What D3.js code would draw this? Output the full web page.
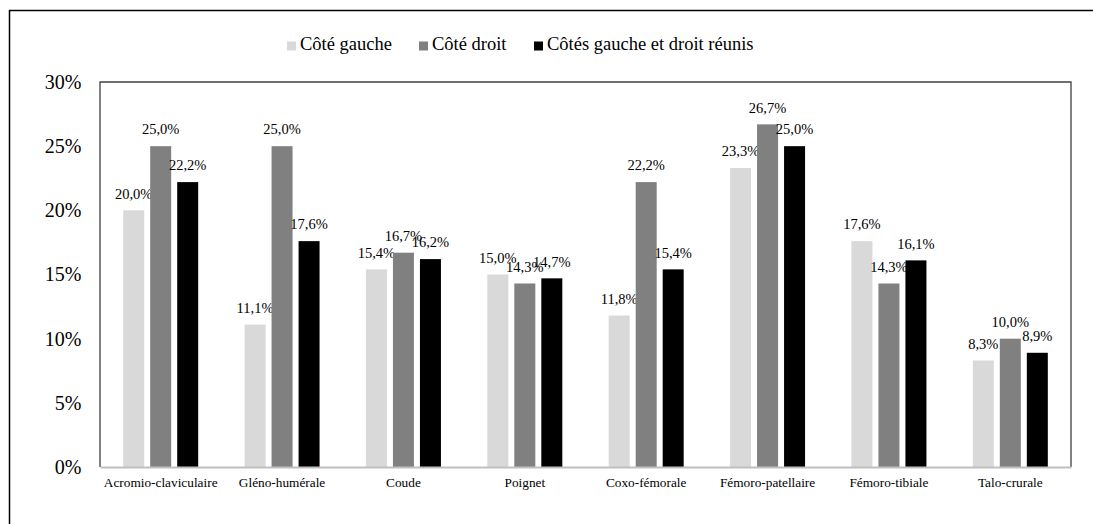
<!DOCTYPE html>
<html><head><meta charset="utf-8">
<script src="https://cdn.jsdelivr.net/npm/d3@7"></script>
<style>body{margin:0;background:#fff;} svg{display:block;} svg text{font-family:"Liberation Serif","Times New Roman",Times,serif !important;}</style>
</head><body>
<svg id="c" width="1093" height="524"></svg>
<script>
const categories = ["Acromio-claviculaire","Gléno-humérale","Coude","Poignet","Coxo-fémorale","Fémoro-patellaire","Fémoro-tibiale","Talo-crurale"];
const seriesNames = ["Côté gauche","Côté droit","Côtés gauche et droit réunis"];
const gauche = [20.0,11.1,15.4,15.0,11.8,23.3,17.6,8.3];
const droit  = [25.0,25.0,16.7,14.3,22.2,26.7,14.3,10.0];
const reunis = [22.2,17.6,16.2,14.7,15.4,25.0,16.1,8.9];
const yTicks = [0,5,10,15,20,25,30];
const colors = ["#d9d9d9","#808080","#000000"];

const series = [gauche, droit, reunis];
const svg = d3.select("#c");
const m = {l:100, r:1071, t:82, b:467};

// outer frame (top + left)
svg.append("line").attr("x1",9).attr("x2",1093).attr("y1",10.5).attr("y2",10.5).attr("stroke","#000").attr("stroke-width",1.5);
svg.append("line").attr("x1",9.5).attr("x2",9.5).attr("y1",10).attr("y2",524).attr("stroke","#000").attr("stroke-width",1.5);

const x = d3.scaleBand().domain(categories).range([m.l,m.r]);
const y = d3.scaleLinear().domain([0,30]).range([m.b,m.t]);
const barW = 21, gap = 6;

// plot border
svg.append("path").attr("d",`M${m.l},${m.b}V${m.t}H${m.r}V${m.b}`).attr("fill","none").attr("stroke","#404040").attr("stroke-width",1.3);

// y axis labels
const yAxis = d3.axisLeft(y).tickValues(yTicks).tickFormat(d=>d+"%").tickSize(0).tickPadding(18.5);
const gy = svg.append("g").attr("transform",`translate(${m.l},0)`).call(yAxis);
gy.select(".domain").remove();
gy.selectAll("text").attr("font-size",20).attr("fill","#000");

// bars
series.forEach((s,si)=>{
  const off = (si-1)*(barW+gap) - barW/2;
  svg.append("g").selectAll("rect").data(s).join("rect")
    .attr("x",(d,i)=>x(categories[i])+x.bandwidth()/2+off)
    .attr("y",d=>y(d)).attr("width",barW).attr("height",d=>y(0)-y(d))
    .attr("fill",colors[si]);
  svg.append("g").selectAll("text").data(s).join("text")
    .attr("x",(d,i)=>x(categories[i])+x.bandwidth()/2+off+barW/2)
    .attr("y",d=>y(d)-15)
    .attr("text-anchor","middle").attr("dominant-baseline","middle")
    .attr("font-size",14.5).attr("fill","#000")
    .text(d=>d.toFixed(1).replace(".",",")+"%");
});

// x axis
const gx = svg.append("g").attr("transform",`translate(0,${m.b})`).call(d3.axisBottom(x).tickSize(0).tickPadding(11));
gx.select(".domain").attr("stroke","#bfbfbf").attr("stroke-width",2);
gx.selectAll("text").attr("font-size",13.3).attr("fill","#000");

// legend
const legX = [287,419,534];
seriesNames.forEach((n,i)=>{
  svg.append("rect").attr("x",legX[i]).attr("y",41.5).attr("width",9).attr("height",9).attr("fill",colors[i]);
  svg.append("text").attr("x",legX[i]+13).attr("y",46).attr("dominant-baseline","middle")
    .attr("font-size",18.5).attr("fill","#000").text(n);
});
</script>
</body></html>
